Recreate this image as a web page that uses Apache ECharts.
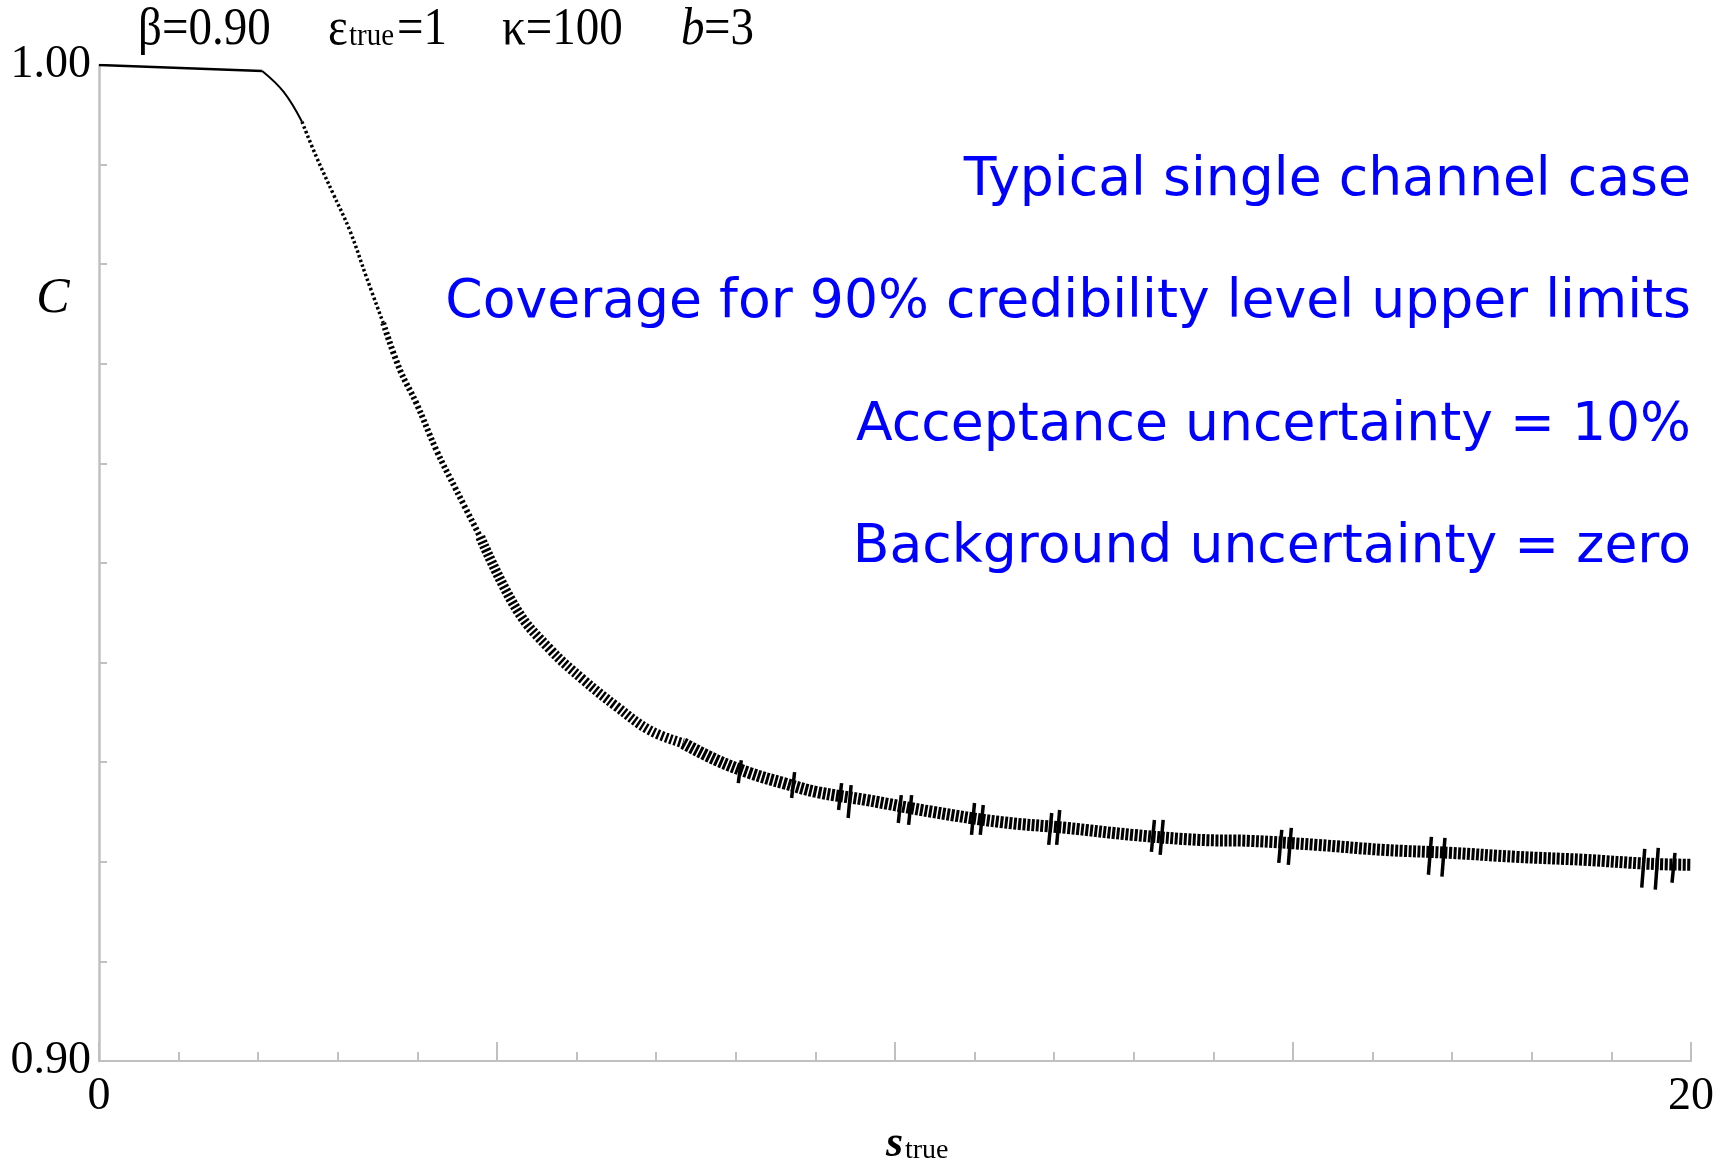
<!DOCTYPE html>
<html>
<head>
<meta charset="utf-8">
<script src="https://cdn.jsdelivr.net/npm/echarts@6/dist/echarts.min.js"></script>
<style>
  html, body { margin: 0; padding: 0; background: #fff; }
  #chart { width: 1727px; height: 1167px; }
</style>
</head>
<body>
<div id="chart"></div>
<script>
// coverage curve (band centre)
const sTrue = [0, 2.05, 2.32, 2.55, 2.73, 2.94, 3.15, 3.36, 3.57, 3.78, 3.99, 4.24, 4.49, 4.79,
  5.25, 5.67, 6.08, 6.50, 6.92, 7.34, 7.76, 8.18, 8.60, 9.02, 9.64, 10.48, 11.32, 12.16, 12.99,
  13.83, 14.46, 15.30, 16.13, 16.97, 17.81, 18.65, 19.48, 20.0]
const coverage = [1.0000, 0.9994, 0.9973, 0.9943, 0.9908, 0.9871, 0.9834, 0.9787, 0.9741, 0.9694,
  0.9660, 0.9613, 0.9573, 0.9526, 0.9453, 0.9413, 0.9383, 0.9356, 0.9332, 0.9319, 0.9302, 0.9289,
  0.9279, 0.9270, 0.9262, 0.9250, 0.9240, 0.9234, 0.9227, 0.9222, 0.9221, 0.9217, 0.9212, 0.9209,
  0.9205, 0.9202, 0.9198, 0.9197]

// the larger jumps of the sawtooth
const spikeS = [8.05, 8.72, 9.31, 9.43, 10.06, 10.19, 10.98, 11.09, 11.95, 12.05, 13.24, 13.35,
  14.84, 14.96, 16.72, 16.89, 19.40, 19.57, 19.78]
const spikeHi = [0.9302, 0.9290, 0.9279, 0.9277, 0.9267, 0.9267, 0.9259, 0.9257, 0.9249, 0.9252,
  0.9242, 0.9242, 0.9232, 0.9234, 0.9225, 0.9224, 0.9213, 0.9214, 0.9209]
const spikeLo = [0.9279, 0.9264, 0.9252, 0.9244, 0.9239, 0.9237, 0.9227, 0.9227, 0.9217, 0.9217,
  0.9210, 0.9207, 0.9199, 0.9197, 0.9187, 0.9185, 0.9174, 0.9172, 0.9179]

const xMin = 0, xMax = 20
const yMin = 0.9, yMax = 1.0

const notes = [
  'Typical single channel case',
  'Coverage for 90% credibility level upper limits',
  'Acceptance uncertainty = 10%',
  'Background uncertainty = zero',
]

const points = sTrue.map((s, i) => [s, coverage[i]])
const range = (a, b) => points.filter(p => p[0] >= a && p[0] <= b)

// the curve changes look along s: solid, then dotted, then a thick hatched band
const segments = [
  { from: 0, to: 2.05, width: 2.5, dash: 'solid', smooth: false },
  { from: 2.05, to: 2.55, width: 2, dash: 'solid', smooth: 0.4 },
  { from: 2.55, to: 3.57, width: 3.5, dash: [2.5, 2.5], smooth: 0.4 },
  { from: 3.57, to: 4.79, width: 6, dash: [2.5, 2.5], smooth: 0.4 },
  { from: 4.79, to: 7.34, width: 10, dash: [2.5, 2], smooth: 0.4 },
  { from: 7.34, to: 20, width: 12, dash: [3, 1.5], smooth: 0.4 },
]

const axisGray = '#c0c0c0'
const serif = '"Liberation Serif", "Times New Roman", serif'
const sans = '"DejaVu Sans", sans-serif'

const chart = echarts.init(document.getElementById('chart'))

// serif labels in the picture are a little stretched vertically
const tall = (x, y, text, font) => ({
  type: 'text', x, y, scaleY: 1.12,
  style: { text, font, fill: '#000', verticalAlign: 'middle' },
})

chart.setOption({
  backgroundColor: '#fff',
  animation: false,
  grid: { left: 99, right: 36, top: 65, bottom: 106, outerBoundsMode: 'none' },
  xAxis: {
    type: 'value', min: xMin, max: xMax, interval: 5,
    axisLine: { lineStyle: { color: axisGray, width: 2 } },
    axisTick: { inside: true, length: 19, lineStyle: { color: axisGray, width: 2 } },
    minorTick: { show: true, splitNumber: 5, length: 9, lineStyle: { color: axisGray, width: 2 } },
    splitLine: { show: false },
    axisLabel: {
      margin: 13, color: '#000', fontFamily: serif, fontSize: 46,
      formatter: v => (v === xMin || v === xMax) ? String(v) : '',
    },
  },
  yAxis: {
    type: 'value', min: yMin, max: yMax, interval: 0.1,
    axisLine: { show: true, lineStyle: { color: axisGray, width: 2.5 } },
    axisTick: { show: true, inside: true, length: 8, lineStyle: { color: axisGray, width: 2 } },
    minorTick: { show: true, splitNumber: 10, length: 8, lineStyle: { color: axisGray, width: 2 } },
    splitLine: { show: false },
    axisLabel: { margin: 8, color: '#000', fontFamily: serif, fontSize: 46, formatter: v => v.toFixed(2) },
  },
  series: [
    ...segments.map(seg => ({
      type: 'line',
      data: range(seg.from, seg.to),
      showSymbol: false,
      smooth: seg.smooth,
      lineStyle: { color: '#000', width: seg.width, type: seg.dash, cap: 'butt' },
      z: 3,
    })),
    {
      type: 'custom',
      data: spikeS.map((s, i) => [s, spikeLo[i], spikeHi[i]]),
      renderItem: (params, api) => {
        const lo = api.coord([api.value(0), api.value(1)])
        const hi = api.coord([api.value(0), api.value(2)])
        return {
          type: 'line',
          shape: { x1: lo[0] - 1.5, y1: lo[1], x2: hi[0] + 1.5, y2: hi[1] },
          style: { stroke: '#000', lineWidth: 3.5 },
        }
      },
      z: 4,
    },
  ],
  graphic: [
    // parameters along the top
    tall(138, 30, 'β=0.90', `47px ${serif}`),
    tall(328, 30, 'ε', `47px ${serif}`),
    tall(349, 36, 'true', `29px ${serif}`),
    tall(397, 30, '=1', `47px ${serif}`),
    tall(502, 30, 'κ=100', `47px ${serif}`),
    tall(681, 30, 'b', `italic 47px ${serif}`),
    tall(704, 30, '=3', `47px ${serif}`),
    // axis names
    { type: 'text', x: 53, y: 299, style: { text: 'C', font: `italic 50px ${serif}`, fill: '#000', align: 'center', verticalAlign: 'middle' } },
    { type: 'text', x: 886, y: 1145, style: { text: 's', font: `italic bold 44px ${serif}`, fill: '#000', verticalAlign: 'middle' } },
    { type: 'text', x: 905, y: 1151, style: { text: 'true', font: `28px ${serif}`, fill: '#000', verticalAlign: 'middle' } },
    // blue notes, right aligned to the end of the x axis
    ...notes.map((t, i) => ({
      type: 'text', right: 36, y: 181 + i * 122.3,
      style: { text: t, font: `53.6px ${sans}`, fill: '#0000ff', verticalAlign: 'middle' },
    })),
  ],
})
</script>
</body>
</html>
